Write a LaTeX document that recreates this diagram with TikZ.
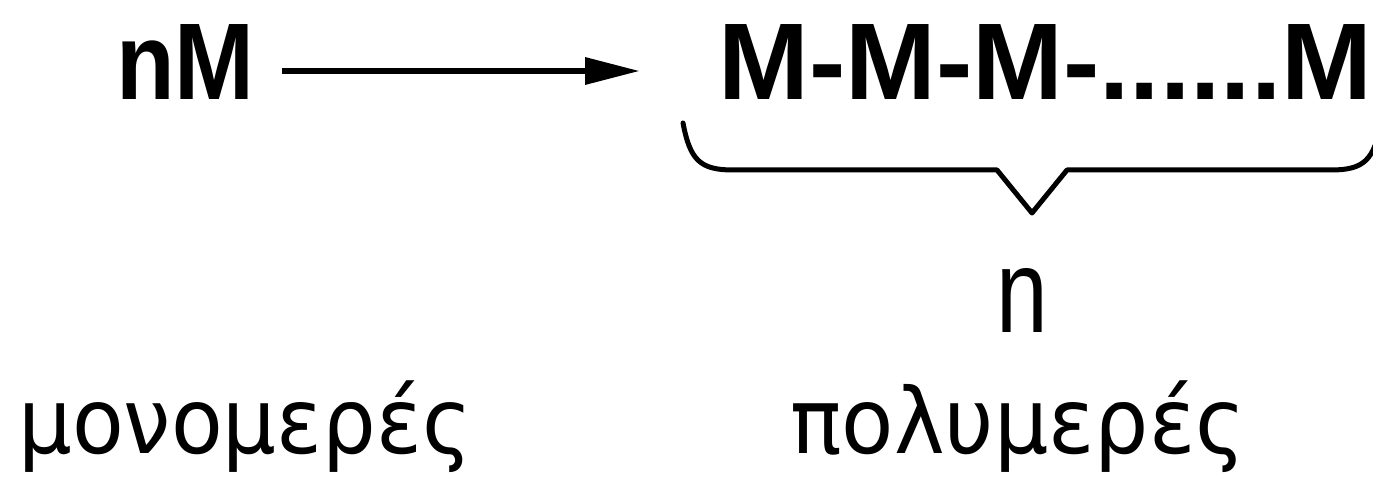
\documentclass[tikz,border=0pt]{standalone}
\usepackage{fontspec}
\setmainfont{Liberation Sans}
\newfontfamily\greekfont{DejaVu Sans}
\usetikzlibrary{arrows.meta}
\tikzset{
  formula/.style={anchor=base west, inner sep=0pt, font=\bfseries\fontsize{109}{120}\selectfont},
  countlabel/.style={anchor=base, inner sep=0pt, font=\fontsize{119}{130}\selectfont},
  greeklabel/.style={anchor=base west, inner sep=0pt, font=\greekfont\fontsize{91}{100}\selectfont},
  reaction/.style={line width=6.5pt, -{Triangle[length=55pt,width=26pt]}},
  bracket/.style={line width=5pt, line join=round, line cap=round},
}
\begin{document}
\begin{tikzpicture}[x=1pt,y=-1pt]
  \useasboundingbox (0,0) rectangle (1373,478);
  % monomer and polymer formulas
  \node[formula, xscale=0.88] (mono) at (116,100) {nM};
  \node[formula] (poly) at (718,100) {M-M-M-......M};
  % reaction arrow
  \coordinate (arrowstart) at (282,71);
  \coordinate (arrowend) at (640,71);
  \draw[reaction] (arrowstart) -- (arrowend);
  % underbrace spanning the chain
  \coordinate (bl) at (683,123);
  \coordinate (tip) at (1032,213);
  \coordinate (br) at (1381,123);
  \draw[bracket] (bl) .. controls (690,160) and (700,170) .. (733,170)
     -- (997,170) -- (tip) -- (1067,170) -- (1331,170)
     .. controls (1364,170) and (1374,160) .. (br);
  % repeat count
  \node[countlabel, xscale=0.78] (count) at (1022,332) {n};
  % captions
  \node[greeklabel, xscale=0.93] (monocap) at (18,453) {μονομερές};
  \node[greeklabel, xscale=0.94] (polycap) at (790,453) {πολυμερές};
\end{tikzpicture}
\end{document}
